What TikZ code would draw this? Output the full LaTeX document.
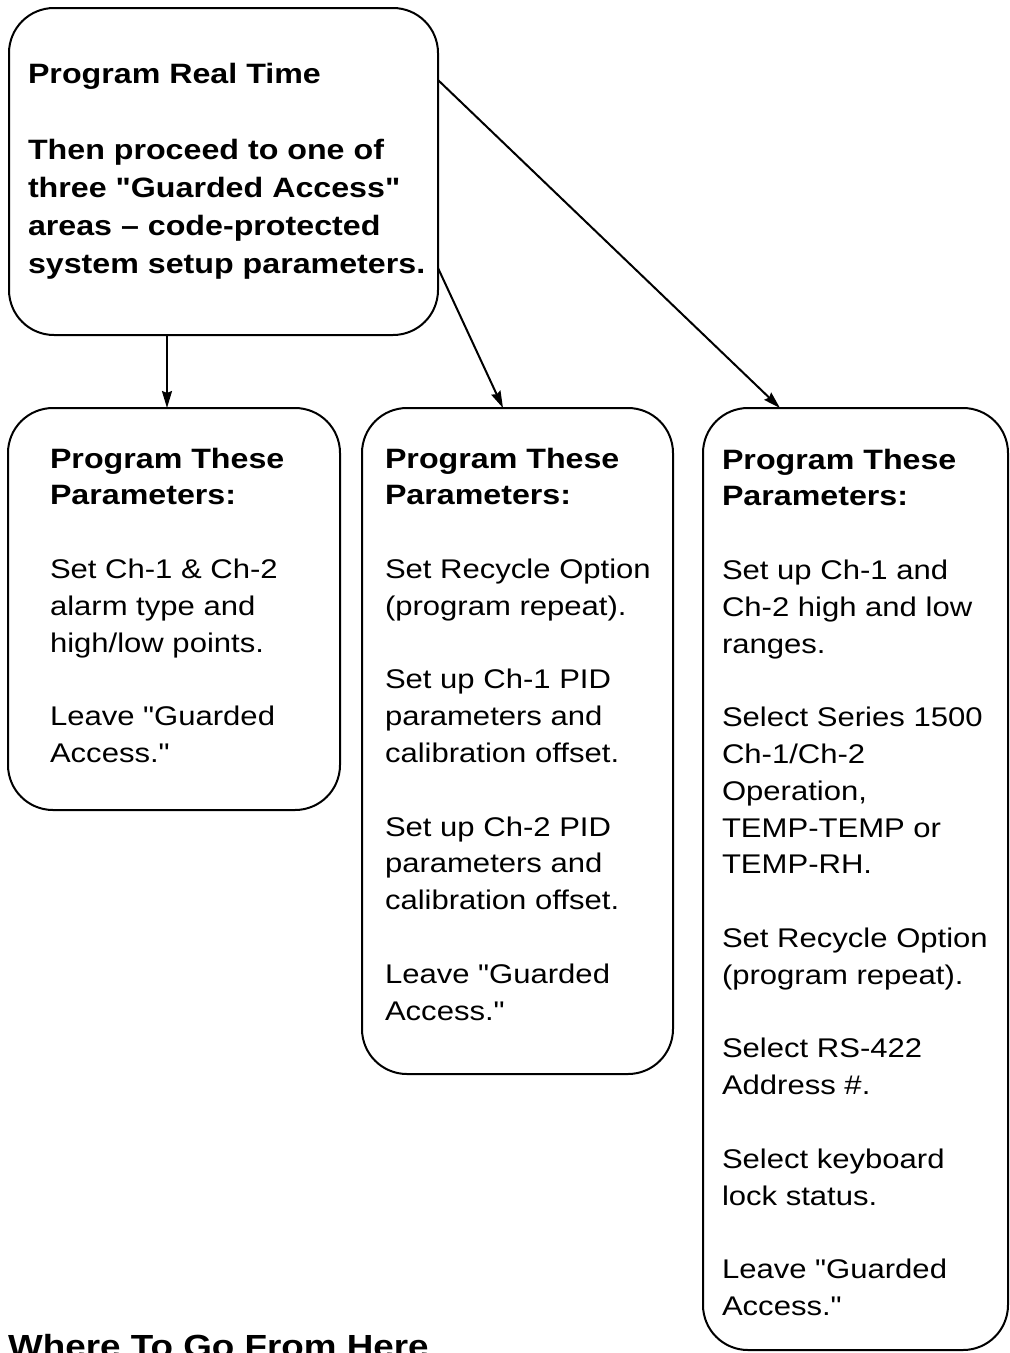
\documentclass[tikz,border=0pt]{standalone}
\usepackage{fontspec}
\newfontfamily\lsans{Liberation Sans}[FakeStretch=1.15]
\usetikzlibrary{arrows.meta}
\newcommand{\hdf}{\lsans\fontsize{28}{36.8}\selectfont\bfseries}
\newcommand{\fstrut}{\rule{0pt}{26pt}}
\tikzset{
  box/.style={draw, line width=2pt, rounded corners=45pt, inner sep=0pt, outer sep=0pt, anchor=north west},
  txt/.style={anchor=north west, inner sep=0pt, outer sep=0pt, align=left, font=\lsans\fontsize{27}{36.8}\selectfont},
  toptxt/.style={anchor=north west, inner sep=0pt, outer sep=0pt, align=left, font=\lsans\fontsize{28}{38}\selectfont\bfseries},
  arr/.style={line width=2pt, -{Stealth[length=17pt,width=10pt,inset=2pt]}}
}
\begin{document}
\begin{tikzpicture}[x=1pt,y=-1pt]
\useasboundingbox (0,0) rectangle (1010,1353);
\clip (0,0) rectangle (1010,1353);
\fill[white] (0,0) rectangle (1010,1353);

% boxes
\node[box, minimum width=429pt, minimum height=327pt] (top) at (9,8) {};
\node[box, minimum width=332pt, minimum height=402pt] (b1) at (8,408) {};
\node[box, minimum width=311pt, minimum height=666pt] (b2) at (362,408) {};
\node[box, minimum width=305pt, minimum height=942pt] (b3) at (703,408) {};

% texts
\node[toptxt] (ttop) at (28,57) {\fstrut Program Real Time\\[38pt]
Then proceed to one of\\
three "Guarded Access"\\
areas – code-protected\\
system setup parameters.};

\node[txt] (t1) at (50,442) {\fstrut{\hdf Program These}\\{\hdf Parameters:}\\[36.8pt]
Set Ch-1 \& Ch-2\\alarm type and\\high/low points.\\[36.8pt]
Leave "Guarded\\Access."};

\node[txt] (t2) at (385,442) {\fstrut{\hdf Program These}\\{\hdf Parameters:}\\[36.8pt]
Set Recycle Option\\(program repeat).\\[36.8pt]
Set up Ch-1 PID\\parameters and\\calibration offset.\\[36.8pt]
Set up Ch-2 PID\\parameters and\\calibration offset.\\[36.8pt]
Leave "Guarded\\Access."};

\node[txt] (t3) at (722,443) {\fstrut{\hdf Program These}\\{\hdf Parameters:}\\[36.8pt]
Set up Ch-1 and\\Ch-2 high and low\\ranges.\\[36.8pt]
Select Series 1500\\Ch-1/Ch-2\\Operation,\\TEMP-TEMP or\\TEMP-RH.\\[36.8pt]
Set Recycle Option\\(program repeat).\\[36.8pt]
Select RS-422\\Address \#.\\[36.8pt]
Select keyboard\\lock status.\\[36.8pt]
Leave "Guarded\\Access."};

\node[anchor=base west, inner sep=0pt, font=\lsans\fontsize{32}{38}\selectfont\bfseries] (where) at (8,1357) {Where To Go From Here};

% arrows
\draw[arr] ([xshift=158pt]top.south west) -- ([xshift=159pt]b1.north west);
\draw[arr] ([yshift=-260pt]top.north east) -- ([xshift=141pt]b2.north west);
\draw[arr] ([yshift=-72pt]top.north east) -- ([xshift=77pt]b3.north west);
\end{tikzpicture}
\end{document}
